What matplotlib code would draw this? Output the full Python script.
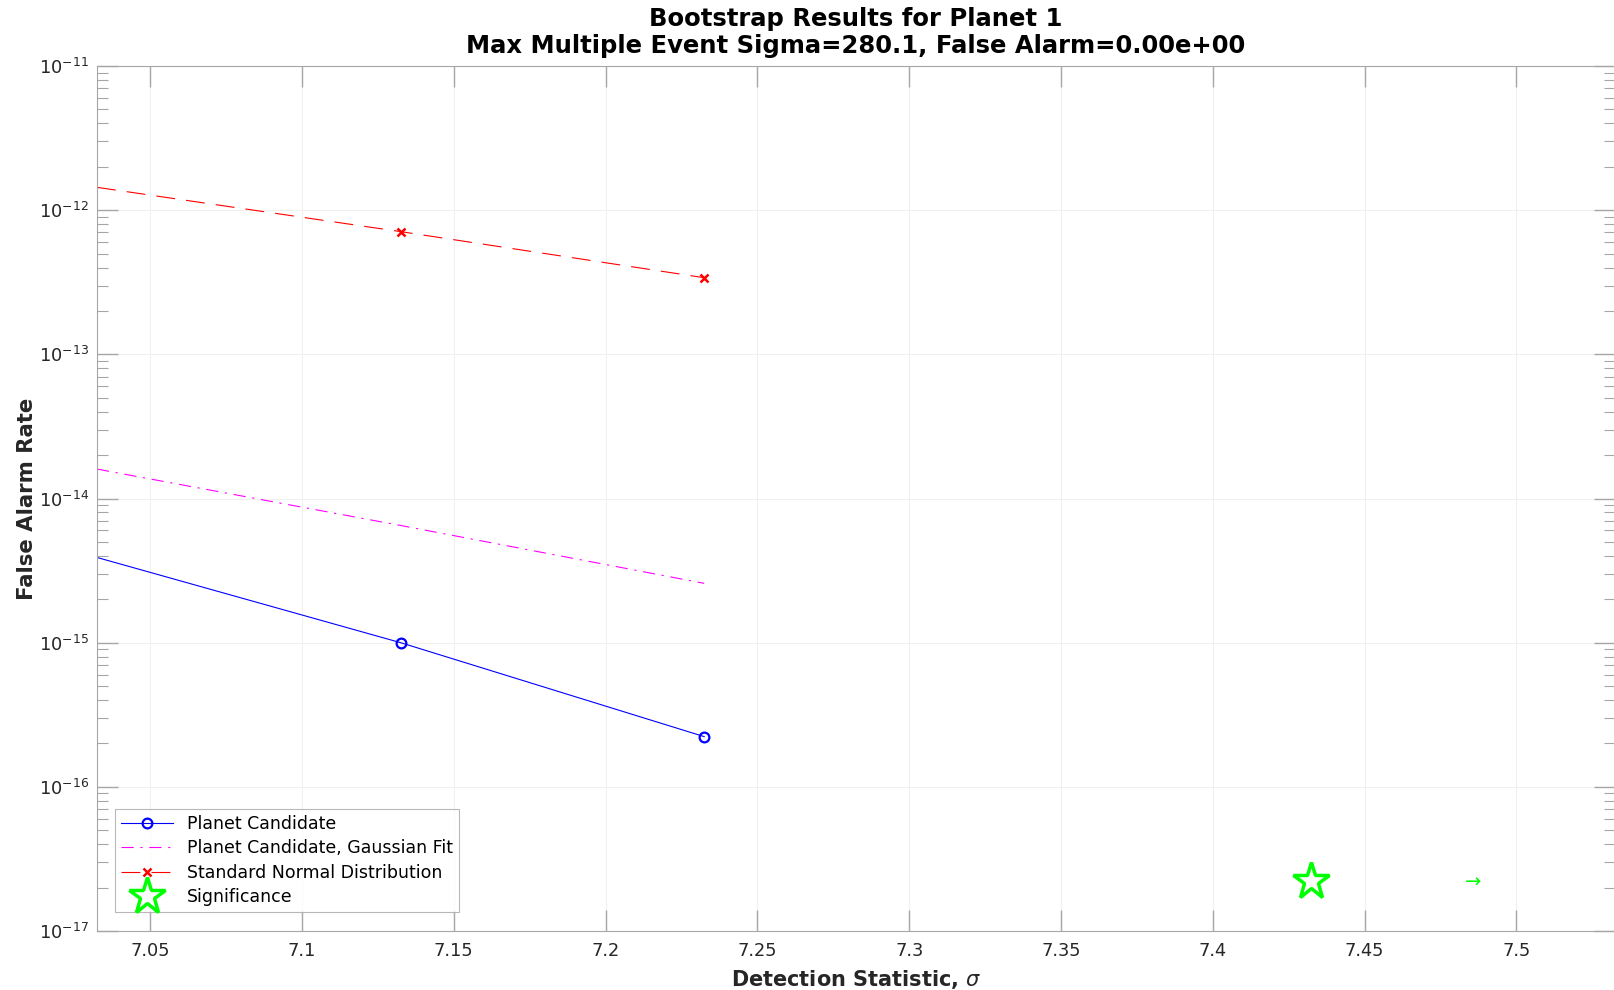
import numpy as np
import matplotlib
matplotlib.use("Agg")
from matplotlib import pyplot as plt
from matplotlib.ticker import LogLocator, NullFormatter

# data
sigma = [7.0325, 7.1325, 7.2325]
fa_candidate = [3.9e-15, 1.0e-15, 2.23e-16]
fa_gauss = [1.6e-14, 6.5e-15, 2.58e-15]
fa_normal = [1.44e-12, 7.1e-13, 3.4e-13]
sig_x = 7.4325
sig_y = 2.24e-17
arrow_x = 7.4832

x_ticks = [7.05, 7.1, 7.15, 7.2, 7.25, 7.3, 7.35, 7.4, 7.45, 7.5]
x_ticklabels = ['7.05', '7.1', '7.15', '7.2', '7.25', '7.3', '7.35',
                '7.4', '7.45', '7.5']
y_exponents = [-17, -16, -15, -14, -13, -12, -11]

title_lines = ["Bootstrap Results for Planet 1",
               "Max Multiple Event Sigma=280.1, False Alarm=0.00e+00"]
legend_labels = ["Planet Candidate", "Planet Candidate, Gaussian Fit",
                 "Standard Normal Distribution", "Significance"]

plt.rcParams['font.family'] = ['DejaVu Sans']

fig = plt.figure(figsize=(16.14, 9.9), dpi=100)
ax = fig.add_axes([97/1614, 59/990, 1518/1614, 865/990])

ax.plot(sigma, fa_candidate, '-', color='#0000ff', lw=0.8, marker='o',
        markevery=[1, 2], ms=7, mfc='none', mew=1.6, label=legend_labels[0])
ax.plot(sigma, fa_gauss, '-.', color='#ff00ff', lw=0.8, label=legend_labels[1],
        dashes=(11, 6, 2, 6))
ax.plot(sigma, fa_normal, '--', color='#ff0000', lw=0.8, marker='x',
        markevery=[1, 2], ms=5.5, mew=1.8, label=legend_labels[2], dashes=(17, 10))
ax.plot([sig_x], [sig_y], linestyle='none', marker='*', ms=28, mfc='none',
        mec='#00ff00', mew=2.5, label=legend_labels[3])
ax.text(arrow_x, sig_y, '\u2192', color='#00ff00', fontsize=14,
        ha='left', va='center_baseline')

ax.set_yscale('log')
ax.set_xlim(7.0325, 7.5325)
ax.set_ylim(1e-17, 1e-11)
ax.set_xticks(x_ticks)
ax.set_xticklabels(x_ticklabels)
ax.set_yticks([10.0**e for e in y_exponents])
ax.set_yticklabels(['$\\mathdefault{10^{%d}}$' % e for e in y_exponents])
minor = [m * 10.0**e for e in y_exponents[:-1] for m in range(2, 10)]
ax.set_yticks(minor, minor=True)
ax.yaxis.set_minor_formatter(NullFormatter())

ax.grid(True, which='major', color='#f0f0f0', lw=0.8)
ax.set_axisbelow(True)
for s in ax.spines.values():
    s.set_color('#a6a6a6')
ax.tick_params(which='both', direction='in', top=True, right=True,
               color='#a6a6a6', labelsize=12.8, labelcolor='#262626')
ax.tick_params(which='major', length=15, width=1.0)
ax.tick_params(which='minor', length=8, width=0.8)
ax.tick_params(axis='x', which='minor', top=False, bottom=False)
ax.tick_params(axis='x', which='major', pad=8)
ax.tick_params(axis='y', which='major', pad=6)

ax.set_xlabel('Detection Statistic, $\\sigma$', fontsize=15, fontweight='bold',
              color='#262626', labelpad=6)
ax.set_ylabel('False Alarm Rate', fontsize=15.3, fontweight='bold',
              color='#262626', labelpad=1)
ax.set_title('\n'.join(title_lines), fontsize=17.5, fontweight='bold', pad=9,
             linespacing=1.2)

leg = ax.legend(loc='lower left', bbox_to_anchor=(0.0119, 0.022), fontsize=12.5,
                frameon=True, fancybox=False, edgecolor='#a6a6a6',
                handlelength=3.0, borderpad=0.35, labelspacing=0.36,
                handletextpad=0.8, borderaxespad=0)
leg.get_frame().set_linewidth(0.8)

fig.savefig('out.png', dpi=100)
